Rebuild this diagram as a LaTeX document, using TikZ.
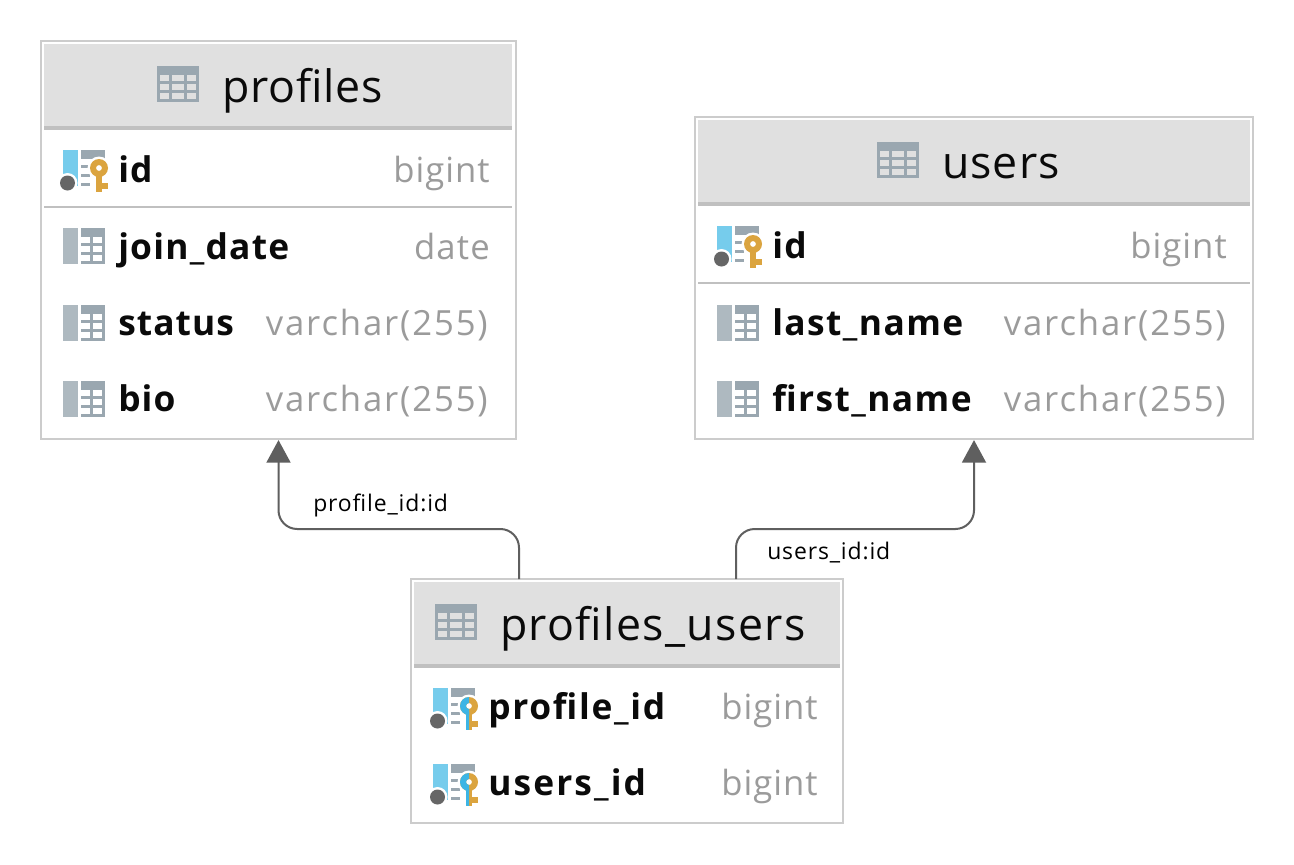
\documentclass[tikz,border=0pt]{standalone}
\usepackage{fontspec}
\setmainfont{Open Sans}
\usetikzlibrary{calc,arrows.meta}
\definecolor{hdr}{HTML}{E0E0E0}
\definecolor{hrule}{HTML}{C0C0C0}
\definecolor{bord}{HTML}{CCCCCC}
\definecolor{icongray}{HTML}{9AA7B0}
\definecolor{iconbar}{HTML}{AEB9C0}
\definecolor{kblue}{HTML}{76CCEC}
\definecolor{kdot}{HTML}{666666}
\definecolor{korange}{HTML}{DBA43F}
\definecolor{kfk}{HTML}{3DB5E5}
\definecolor{ttype}{HTML}{9B9B9B}
\definecolor{conn}{HTML}{5F5F5F}
\definecolor{ink}{HTML}{0A0A0A}
\newcommand{\ls}[1]{\addfontfeature{LetterSpace=#1}}
\tikzset{
  tbl/.style={draw=bord,line width=1pt,fill=white,inner sep=0pt,outer sep=0pt},
  title/.style={anchor=base west,inner sep=0pt,text=ink,font=\fontsize{33.5}{34}\selectfont},
  colname/.style={anchor=base west,inner sep=0pt,text=ink,font=\fontsize{26.5}{27}\selectfont\bfseries},
  coltype/.style={anchor=base east,inner sep=0pt,text=ttype,font=\fontsize{26}{27}\selectfont},
  edgelabel/.style={anchor=base west,inner sep=0pt,text=black,font=\fontsize{17.2}{18}\selectfont\ls{3.8}},
  link/.style={draw=conn,line width=1.5pt,rounded corners=14pt},
  linkhead/.style={-{Triangle[length=17pt,width=18pt,fill=conn]},shorten >=0.8pt},
}
% table icon, top-left at #1,#2
\newcommand{\tblicon}[2]{%
  \fill[icongray] (#1,#2) rectangle ++(42,36);
  \foreach \cx/\cw in {3/9,15/12,30/9}{\foreach \cy in {9,18,27}{%
    \fill[hdr] ({#1+\cx},{#2+\cy}) rectangle ++(\cw,6);}}%
}
% plain column icon
\newcommand{\colicon}[2]{%
  \fill[iconbar] (#1,#2) rectangle ++(15,36);
  \fill[icongray] ({#1+18},#2) rectangle ++(24,36);
  \foreach \cx/\cw in {18/9,30/9}{\foreach \cy in {9,18,27}{%
    \fill[white] ({#1+\cx},{#2+\cy}) rectangle ++(\cw,6);}}%
}
% shared base of key icons
\newcommand{\keybase}[2]{%
  \fill[kblue] (#1,#2) rectangle ++(15,36);
  \fill[icongray] ({#1+18},#2) rectangle ++(24,9);
  \foreach \cy in {15,24,33}{\fill[icongray] ({#1+18},{#2+\cy}) rectangle ++(9,3);}
  \fill[white] ({#1+4.5},{#2+33}) circle (10);
  \fill[kdot] ({#1+4.5},{#2+33}) circle (7.5);
  \fill[white] ({#1+36},{#2+18}) circle (11.5);
  \fill[white] ({#1+30},{#2+24}) rectangle ++(15,18);
}
\newcommand{\keyshape}[3]{%
  \fill[#3,even odd rule] ({#1+36},{#2+18}) circle (9) ({#1+36},{#2+18}) circle (3);
  \fill[#3] ({#1+33},{#2+24}) rectangle ++(6,18);
  \fill[#3] ({#1+39},{#2+33}) rectangle ++(6,6);
}
\newcommand{\pkicon}[2]{\keybase{#1}{#2}\keyshape{#1}{#2}{korange}}
\newcommand{\fkicon}[2]{\keybase{#1}{#2}\keyshape{#1}{#2}{korange}%
  \begin{scope}\clip ({#1+20},{#2}) rectangle ({#1+36},{#2+44});\keyshape{#1}{#2}{kfk}\end{scope}}
\begin{document}
\begin{tikzpicture}[x=0.75pt,y=-0.75pt]
\useasboundingbox (0,0) rectangle (1294,864);
\fill[white] (0,0) rectangle (1294,864);
% profiles
\node[tbl,minimum width=475*0.75pt,minimum height=398*0.75pt] (profiles) at (278.5,240) {};
\fill[hdr] (44,44) rectangle (512,126);
\fill[hrule] (44,126) rectangle (512,130);
\fill[hrule] (44,206) rectangle (512,208);
\tblicon{157}{66}
\node[title] (tp) at (222,102) {\ls{1.7}profiles};
\pkicon{63}{150}
\node[colname] (p1) at (118,182) {\ls{3.5}id};
\node[coltype] (p1t) at (490,182) {\ls{2.9}bigint};
\colicon{63}{228}
\node[colname] (p2) at (118,259) {\ls{3.5}join\_date};
\node[coltype] (p2t) at (490,259) {\ls{3.3}date};
\colicon{63}{305}
\node[colname] (p3) at (118,335.5) {\ls{3}status};
\node[coltype] (p3t) at (488,335.5) {\ls{5.4}varchar(255)};
\colicon{63}{381}
\node[colname] (p4) at (118,411.5) {\ls{3}bio};
\node[coltype] (p4t) at (488,411.5) {\ls{5.4}varchar(255)};
% users
\node[tbl,minimum width=558*0.75pt,minimum height=322*0.75pt] (users) at (974,278) {};
\fill[hdr] (698,120) rectangle (1250,202);
\fill[hrule] (698,202) rectangle (1250,206);
\fill[hrule] (698,282) rectangle (1250,284);
\tblicon{877}{142}
\node[title] (tu) at (942,178) {\ls{2.2}users};
\pkicon{717}{226}
\node[colname] (u1) at (772,258) {\ls{3.5}id};
\node[coltype] (u1t) at (1227,258) {\ls{2.9}bigint};
\colicon{717}{305}
\node[colname] (u2) at (772,335.5) {\ls{4}last\_name};
\node[coltype] (u2t) at (1226,335.5) {\ls{5.4}varchar(255)};
\colicon{717}{381}
\node[colname] (u3) at (772,411.5) {\ls{4}first\_name};
\node[coltype] (u3t) at (1226,411.5) {\ls{5.4}varchar(255)};
% profiles_users
\node[tbl,minimum width=432*0.75pt,minimum height=244*0.75pt] (pu) at (627,701) {};
\fill[hdr] (414,582) rectangle (840,664);
\fill[hrule] (414,664) rectangle (840,668);
\tblicon{435}{604}
\node[title] (tpu) at (500,640) {\ls{3}profiles\_users};
\fkicon{433}{688}
\node[colname] (x1) at (488,719.5) {\ls{4.8}profile\_id};
\node[coltype] (x1t) at (818,719.5) {\ls{2.9}bigint};
\fkicon{433}{764}
\node[colname] (x2) at (488,795.5) {\ls{6}users\_id};
\node[coltype] (x2t) at (818,795.5) {\ls{2.9}bigint};
% connectors
\coordinate (b1) at ($(pu.north)+(-108,0)$);
\coordinate (b2) at ($(pu.north)+(109,0)$);
\draw[link,linkhead] (b1) -- ($(b1)+(0,-50)$) -- ($(profiles.south)+(0,90)$) -- (profiles.south);
\draw[link,linkhead] (b2) -- ($(b2)+(0,-50)$) -- ($(users.south)+(0,90)$) -- (users.south);
\node[edgelabel] (l1) at (313,511) {profile\_id:id};
\node[edgelabel] (l2) at (767,559) {users\_id:id};
\end{tikzpicture}
\end{document}
